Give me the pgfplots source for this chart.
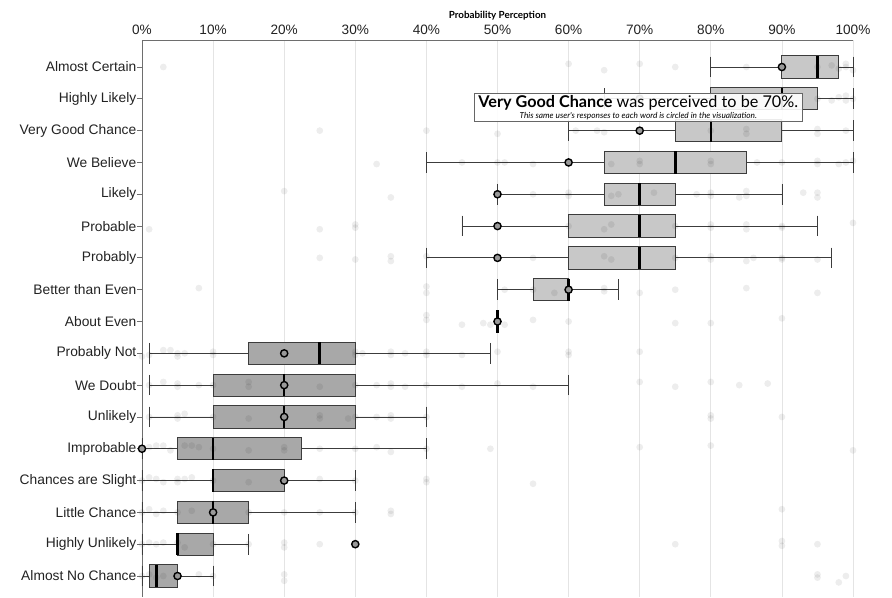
\documentclass[border=0pt]{standalone}
\usepackage{fontspec}
\setmainfont{Liberation Sans}
\newfontfamily\lato{Lato}
\usepackage{pgfplots}
\pgfplotsset{compat=1.18}
\usepgfplotslibrary{statistics}

\definecolor{boxlight}{HTML}{C8C8C8}
\definecolor{boxdark}{HTML}{A8A8A8}
\definecolor{edge}{HTML}{3C3C3C}
\definecolor{gridc}{HTML}{E4E4E4}
\definecolor{axisc}{HTML}{6E6E6E}
\definecolor{labc}{HTML}{222222}

\begin{document}
\begin{tikzpicture}
\path (-142pt,0) rectangle (750pt,597pt);
\begin{axis}[
  scale only axis, width=711pt, height=557pt,
  xmin=0, xmax=100, ymin=-0.849, ymax=16.66, y dir=reverse,
  axis x line*=top, axis y line*=left,
  axis line style={axisc, line width=0.9pt},
  xtick={0,10,...,100},
  xticklabels={0\%,10\%,20\%,30\%,40\%,50\%,60\%,70\%,80\%,90\%,100\%},
  xmajorgrids, grid style={gridc, line width=0.8pt},
  ytick={0,...,16},
  yticklabels={Almost Certain,Highly Likely,Very Good Chance,We Believe,Likely,Probable,Probably,Better than Even,About Even,Probably Not,We Doubt,Unlikely,Improbable,Chances are Slight,Little Chance,Highly Unlikely,Almost No Chance},
  tick align=outside, major tick length=5pt,
  x tick style={draw=none},
  y tick style={axisc, line width=0.8pt},
  ticklabel style={font=\fontsize{13.6}{16}\selectfont, text=labc},
  xticklabel style={yshift=-2.7pt},
  yticklabel style={font=\fontsize{13.8}{16}\selectfont, inner xsep=0.5pt},
  clip=false,
  boxplot/box extend=0.7, boxplot/whisker extend=0.65,
  boxplot/every median/.style={line width=2.6pt, black},
  boxplot/every whisker/.style={line width=0.8pt},
  boxplot/every box/.style={line width=1pt},
]
% light boxes
\addplot[fill=boxlight, draw=edge, boxplot prepared={lower whisker=80, lower quartile=90, median=95, upper quartile=98, upper whisker=100, draw position=0}] coordinates {};
\addplot[fill=boxlight, draw=edge, boxplot prepared={lower whisker=65, lower quartile=80, median=90, upper quartile=95, upper whisker=100, draw position=1}] coordinates {};
\addplot[fill=boxlight, draw=edge, boxplot prepared={lower whisker=60, lower quartile=75, median=80, upper quartile=90, upper whisker=100, draw position=2}] coordinates {};
\addplot[fill=boxlight, draw=edge, boxplot prepared={lower whisker=40, lower quartile=65, median=75, upper quartile=85, upper whisker=100, draw position=3}] coordinates {};
\addplot[fill=boxlight, draw=edge, boxplot prepared={lower whisker=50, lower quartile=65, median=70, upper quartile=75, upper whisker=90, draw position=4}] coordinates {};
\addplot[fill=boxlight, draw=edge, boxplot prepared={lower whisker=45, lower quartile=60, median=70, upper quartile=75, upper whisker=95, draw position=5}] coordinates {};
\addplot[fill=boxlight, draw=edge, boxplot prepared={lower whisker=40, lower quartile=60, median=70, upper quartile=75, upper whisker=97, draw position=6}] coordinates {};
\addplot[fill=boxlight, draw=edge, boxplot prepared={lower whisker=50, lower quartile=55, median=60, upper quartile=60, upper whisker=67, draw position=7}] coordinates {};
\addplot[fill=boxlight, draw=edge, boxplot prepared={lower whisker=50, lower quartile=50, median=50, upper quartile=50, upper whisker=50, draw position=8}] coordinates {};
% dark boxes
\addplot[fill=boxdark, draw=edge, boxplot prepared={lower whisker=1, lower quartile=15, median=25, upper quartile=30, upper whisker=49, draw position=9}] coordinates {};
\addplot[fill=boxdark, draw=edge, boxplot prepared={lower whisker=1, lower quartile=10, median=20, upper quartile=30, upper whisker=60, draw position=10}] coordinates {};
\addplot[fill=boxdark, draw=edge, boxplot prepared={lower whisker=1, lower quartile=10, median=20, upper quartile=30, upper whisker=40, draw position=11}] coordinates {};
\addplot[fill=boxdark, draw=edge, boxplot prepared={lower whisker=0, lower quartile=5, median=10, upper quartile=22.5, upper whisker=40, draw position=12}] coordinates {};
\addplot[fill=boxdark, draw=edge, boxplot prepared={lower whisker=0, lower quartile=10, median=10, upper quartile=20, upper whisker=30, draw position=13}] coordinates {};
\addplot[fill=boxdark, draw=edge, boxplot prepared={lower whisker=0, lower quartile=5, median=10, upper quartile=15, upper whisker=30, draw position=14}] coordinates {};
\addplot[fill=boxdark, draw=edge, boxplot prepared={lower whisker=0, lower quartile=5, median=5, upper quartile=10, upper whisker=15, draw position=15}] coordinates {};
\addplot[fill=boxdark, draw=edge, boxplot prepared={lower whisker=0, lower quartile=1, median=2, upper quartile=5, upper whisker=10, draw position=16}] coordinates {};

% individual responses (faint dots)
\addplot[only marks, mark=*, mark size=3.4pt, color=black, draw opacity=0, fill opacity=0.07,
  mark options={draw opacity=0, fill=black, fill opacity=0.07}] coordinates {
(3,0) (60,-0.1) (65,0.1) (70,-0.1) (75,0) (85,0) (95,0) (97,-0.05) (98,0.05) (99,0) (100,0.1) (99,-0.1)
(65,1) (70,0.9) (95,1) (97,1.05) (98,0.95) (99,1.05) (100,1) (99,0.9)
(25,2) (40,2) (50,2.1) (61,2) (64,2) (65,2.05) (80,2) (85,1.95) (85,2.1) (95,1.95) (95,2.1) (99,2)
(33,3.05) (45,3) (50,3) (51,3) (55,3.05) (60,3) (66,3.05) (70,2.95) (70,3.05) (80,2.95) (80,3.05) (86.5,3) (90,3) (95,2.95) (95,3.05) (99,3) (98,3.05) (100,2.95)
(20,3.9) (35,4.1) (55,4) (60,3.95) (60,4.05) (66,4.05) (67,4) (72,3.95) (78,4) (80,3.95) (80,4.05) (85,3.9) (84,4.1) (85,4.05) (93,3.95) (95,3.95) (95,4.1)
(1,5.1) (25,5.1) (30,4.95) (30,5.05) (50,5) (60,5) (65,5.1) (66,4.95) (75,5) (80,4.95) (80,5.05) (85,5.1) (85,4.95) (90,5) (90,5.05) (100,4.9)
(25,6) (30,6.05) (35,5.95) (35,6.1) (40,5.95) (55,6) (65,5.95) (66,6.05) (75,6) (80,5.95) (80,6.05) (85,6.1) (86,6) (90,6) (90,6.05) (95,6.05)
(8,6.95) (40,6.9) (40,7.1) (51,7) (55,7) (58,7.1) (65,7.05) (65,6.95) (70,7.1) (75,7) (85,6.95) (95,7.1)
(40,7.8) (40,7.95) (45,8.1) (48,8.05) (49,8.1) (50,8) (51,8.1) (55,7.95) (60,8) (75,8.05) (80,8.05) (90,7.9)
(0,9.1) (1,9.05) (3,8.9) (4,8.9) (5,9) (5,9.1) (6,9) (10,8.95) (10,9.05) (20,9.05) (30,8.95) (30,9.05) (31,9) (35,8.95) (35,9.05) (37,9) (40,8.95) (40,9.05) (45,9.05) (50,8.95) (60,8.95) (60,9.05) (70,8.95)
(1,10) (3,9.9) (5,9.95) (5,10.05) (8,10) (10,10) (15,9.9) (15,10.05) (20,10) (25,10.05) (30,10) (33,10) (35,9.95) (35,10.05) (37,10.05) (40,10) (45,10.05) (50,9.95) (55,10.05) (70,9.9) (75,10.05) (80,9.9) (84,10) (88,9.95)
(1,11) (5,10.95) (5,11.05) (6,10.9) (10,11) (15,11.05) (20,11) (25,10.95) (25,11.05) (29,11.05) (30,11) (33,11) (35,10.95) (35,11.05) (40,11) (80,10.95) (80,11.05) (90,11)
(0,12) (1,11.95) (2,11.9) (3,11.9) (4,12.05) (6,11.9) (7,11.9) (8,11.95) (10,12) (15,12.05) (20,11.95) (20,12.05) (25,12) (30,12) (33,11.95) (35,12.1) (40,12) (49,12) (70,11.95) (80,11.9) (100,12.05)
(0,13) (1,12.9) (2,12.95) (3,13.05) (5,12.95) (5,13.05) (6,12.95) (7,12.9) (10,13) (15,13.05) (20,13) (25,12.95) (30,13) (40,12.95) (40,13.05) (55,13.1)
(0,14) (1,13.9) (2,14.05) (3,13.95) (5,14) (7,13.95) (10,14) (15,14) (20,14) (25,14) (30,14) (35,13.95) (35,14.05) (90,13.9)
(0,15) (1,14.95) (2,15) (3,14.95) (5,14.95) (6,15.1) (10,15) (15,15) (20,14.95) (20,15.1) (25,15) (30,14.95) (75,15) (90,14.9) (90,15.05) (95,15)
(0,16) (1,15.95) (2,16.05) (3,16) (5,16) (8,15.95) (10,16) (20,15.95) (20,16.15) (95,15.95) (95,16.05) (98,16.2) (99,16)
};

% this user's responses (circled)
\addplot[only marks, mark=*, mark size=3.6pt, mark options={draw=black, fill=black!40, line width=1.4pt}] coordinates {
(90,0) (70,1) (70,2) (60,3) (50,4) (50,5) (50,6) (60,7) (50,8) (20,9) (20,10) (20,11) (0,12) (20,13) (10,14) (30,15) (5,16)
};
\coordinate (ann) at (axis cs:69.8,1.27);
\end{axis}
\node[draw=black!60, line width=0.8pt, fill=white, fill opacity=0.9, text opacity=1, inner xsep=4pt, inner ysep=2pt, align=center]
  at (ann)
  {{\lato\fontsize{16.2}{16.5}\selectfont\textbf{Very Good Chance} was perceived to be 70\%.}\\[-1pt]
   {\lato\itshape\fontsize{8.3}{9}\selectfont This same user's responses to each word is circled in the visualization.}};
\node[anchor=base, font=\lato\bfseries\fontsize{9.8}{11}\selectfont] at ([yshift=21pt]current axis.north) {Probability Perception};
\end{tikzpicture}
\end{document}
